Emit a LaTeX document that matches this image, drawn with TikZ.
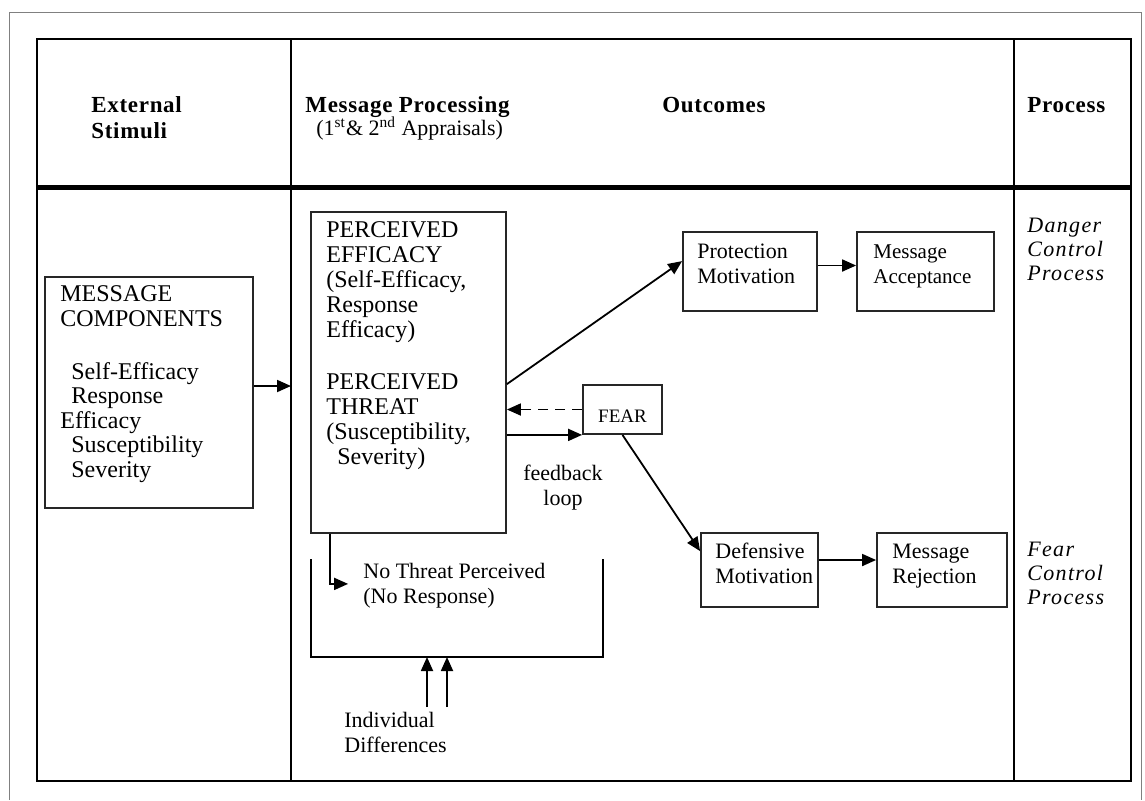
\documentclass[tikz,border=0pt]{standalone}
\usepackage{fontspec}
\setmainfont{Liberation Serif}
\newfontfamily\headfont[LetterSpace=3]{Liberation Serif}
\newfontfamily\sidefont[LetterSpace=6]{Liberation Serif}
\usetikzlibrary{arrows.meta,calc,positioning}

\begin{document}
\begin{tikzpicture}[x=0.5pt,y=-0.5pt,
  box/.style={draw=black!85, line width=0.9pt, inner sep=0pt},
  txt/.style={anchor=base west, align=left, inner sep=0pt, font=\fontsize{12}{12.5}\selectfont},
  small/.style={anchor=base west, align=left, inner sep=0pt, font=\fontsize{11}{12.5}\selectfont},
  head/.style={anchor=base west, align=left, inner sep=0pt, font=\headfont\bfseries\fontsize{11.5}{13}\selectfont},
  side/.style={anchor=base west, align=left, inner sep=0pt, font=\sidefont\itshape\fontsize{11}{12}\selectfont},
  arr/.style={-{Triangle[length=7pt,width=6pt]}, line width=0.9pt}]
  \useasboundingbox (0,0) rectangle (1145,800);

  % frames
  \draw[gray, line width=0.4pt] (9,800) -- (9,12) -- (1141,12) -- (1141,800);
  \draw[line width=1pt] (37,39) rectangle (1131,781);
  \draw[line width=2.5pt] (37,187) -- (1131,187);
  \draw[line width=1pt] (291,39) -- (291,781);
  \draw[line width=1pt] (1014,39) -- (1014,781);

  % column heads (multi-line nodes sit on their last baseline)
  \node[head] (hdext) at (91,138) {External\\Stimuli};
  \node[head] (hdmsg) at (305,112) {Message Processing};
  \node[txt, font=\fontsize{11}{12}\selectfont] (hdapp) at (316,135)
    {(1\textsuperscript{st}\& 2\textsuperscript{nd} Appraisals)};
  \node[head] (hdout) at (662,112) {Outcomes};
  \node[head] (hdproc) at (1027,112) {Process};

  % boxes
  \node[box, minimum width=104pt, minimum height=115.5pt] (mc) at (149,392.5) {};
  \node[box, minimum width=97.5pt, minimum height=160.5pt] (pe) at (408.5,372.5) {};
  \node[box, minimum width=39.5pt, minimum height=24.5pt] (fear) at (622.5,409.5) {};
  \node[box, minimum width=67pt, minimum height=39.5pt] (pm) at (750,271.5) {};
  \node[box, minimum width=68.5pt, minimum height=39.5pt] (ma) at (925.5,271.5) {};
  \node[box, minimum width=58.5pt, minimum height=37pt] (dm) at (759.5,570) {};
  \node[box, minimum width=65pt, minimum height=37pt] (mr) at (942,570) {};

  % texts
  \node[txt, font=\fontsize{12}{12.25}\selectfont] (mctxt) at (60,477)
    {MESSAGE\\COMPONENTS\\[14.25pt]\hspace*{5.5pt}Self-Efficacy\\\hspace*{5.5pt}Response\\Efficacy\\\hspace*{5.5pt}Susceptibility\\\hspace*{5.5pt}Severity};
  \node[txt] (petxt) at (326,464)
    {PERCEIVED\\EFFICACY\\(Self-Efficacy,\\Response\\Efficacy)\\[13.5pt]PERCEIVED\\THREAT\\(Susceptibility,\\\hspace*{5.5pt}Severity)};
  \node[anchor=base, inner sep=0pt, font=\fontsize{9.5}{10}\selectfont] (feartxt) at (622.5,422) {FEAR};
  \node[small] (pmtxt) at (697,283) {Protection\\Motivation};
  \node[small, font=\fontsize{10.5}{12.5}\selectfont] (matxt) at (873,283) {Message\\Acceptance};
  \node[small] (dmtxt) at (715,583) {Defensive\\Motivation};
  \node[small] (mrtxt) at (892,583) {Message\\Rejection};
  \node[small] (nttxt) at (363,603) {No Threat Perceived\\(No Response)};
  \node[small] (idtxt) at (344,752) {Individual\\Differences};
  \node[small, align=center, anchor=base] (fbtxt) at (563,505) {feedback\\loop};
  \node[side] (dctxt) at (1027,280) {Danger\\Control\\Process};
  \node[side] (fctxt) at (1027,604) {Fear\\Control\\Process};

  % arrows
  \coordinate (mcin) at (291,386);
  \draw[arr] (mc.east |- mcin) -- (mcin);
  \draw[arr] ($(pe.north east)+(0,173)$) -- ($(pm.north west)+(0,30)$);
  \draw[arr, dash pattern=on 5pt off 3.5pt] (fear.west) -- (pe.east |- fear.west);
  \draw[arr] (pe.east |- fear.south west) -- (fear.south west);
  \draw[arr] (fear.south) -- ($(dm.north west)+(0,19)$);
  \draw[arr] ($(pm.east)+(0,-6)$) -- ($(ma.west)+(0,-6)$);
  \draw[arr] ($(dm.east)+(0,-10)$) -- ($(mr.west)+(0,-10)$);
  \draw[arr] ($(pe.south west)+(20,0)$) -- ++(0,50) -- ++(18,0);

  % no threat bracket
  \coordinate (brl) at (311,559);
  \coordinate (brb) at (311,657);
  \coordinate (brr) at (603,559);
  \draw[line width=0.9pt] (brl) -- (brb) -| (brr);
  \coordinate (ida) at (427,707);
  \coordinate (idb) at (447,707);
  \draw[arr] (ida) -- (ida |- brb);
  \draw[arr] (idb) -- (idb |- brb);
\end{tikzpicture}
\end{document}
